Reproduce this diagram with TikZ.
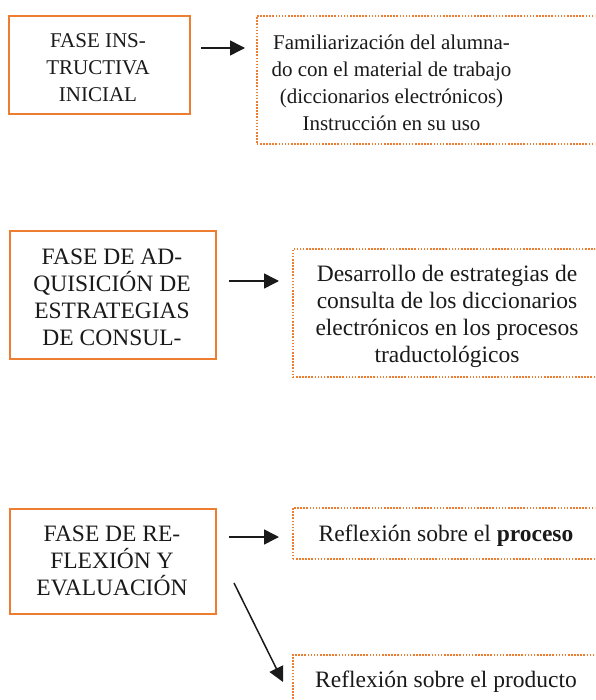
\documentclass[tikz,border=0pt]{standalone}
\usepackage{fontspec}
\setmainfont{Liberation Serif}
\usetikzlibrary{arrows.meta}
\definecolor{fase}{HTML}{ED7D31}
\definecolor{ink}{HTML}{1A1A1A}
\begin{document}
\begin{tikzpicture}[x=1pt,y=-1pt,
  solidbox/.style={draw=fase, line width=2pt, inner sep=0pt, anchor=north west},
  dotbox/.style={draw=fase, line width=1.7pt, dash pattern=on 1.6pt off 1.5pt, inner sep=0pt, anchor=north west},
  smalltext/.style={font=\fontsize{21}{27}\selectfont, align=center, inner sep=0pt, text=ink},
  bigtext/.style={font=\fontsize{23.5}{27}\selectfont, align=center, inner sep=0pt, text=ink},
  arr/.style={draw=ink, line width=1.5pt, -{Triangle[length=15pt,width=15pt]}}]
\useasboundingbox (0,0) rectangle (595,700);
\clip (0,0) rectangle (595,700);
\fill[white] (0,0) rectangle (595,700);

% phase boxes
\node[solidbox, minimum width=181pt, minimum height=98pt] (b1) at (8,15) {};
\node[solidbox, minimum width=206pt, minimum height=128pt] (b2) at (9,230) {};
\node[solidbox, minimum width=206pt, minimum height=105pt] (b3) at (9,508) {};

\node[smalltext] (t1) at (98,68) {FASE INS-\\TRUCTIVA\\INICIAL};
\node[bigtext] (t2) at (112,297) {FASE DE AD-\\QUISICIÓN DE\\ESTRATEGIAS\\DE CONSUL-};
\node[bigtext] (t3) at (112,561) {FASE DE RE-\\FLEXIÓN Y\\EVALUACIÓN};

% result boxes (cut at the right edge)
\node[dotbox, minimum width=360pt, minimum height=128pt] (d1) at (256,15) {};
\node[dotbox, minimum width=320pt, minimum height=128pt] (d2) at (292,248) {};
\node[dotbox, minimum width=320pt, minimum height=51pt] (d3) at (292,507) {};
\node[dotbox, minimum width=320pt, minimum height=80pt] (d4) at (292,654) {};

\node[smalltext] (u1) at (391.5,83) {Familiarización del alumna-\\do con el material de trabajo\\(diccionarios electrónicos)\\Instrucción en su uso};
\node[bigtext] (u2) at (447,316) {Desarrollo de estrategias de\\consulta de los diccionarios\\electrónicos en los procesos\\traductológicos};
\node[bigtext] (u3) at (446,535.5) {Reflexión sobre el \textbf{proceso}};
\node[bigtext] (u4) at (446,681.5) {Reflexión sobre el producto};

% connectors
\coordinate (y1) at (0,48);
\coordinate (y2) at (0,281);
\coordinate (y3) at (0,537);
\draw[arr, shorten <=10pt, shorten >=11pt] (b1.east |- y1) -- (d1.west |- y1);
\draw[arr, shorten <=12pt, shorten >=13pt] (b2.east |- y2) -- (d2.west |- y2);
\draw[arr, shorten <=12pt, shorten >=13pt] (b3.east |- y3) -- (d3.west |- y3);
\draw[arr] ([shift={(17,21.5)}]b3.east) -- ([shift={(-9,28)}]d4.north west);
\end{tikzpicture}
\end{document}
